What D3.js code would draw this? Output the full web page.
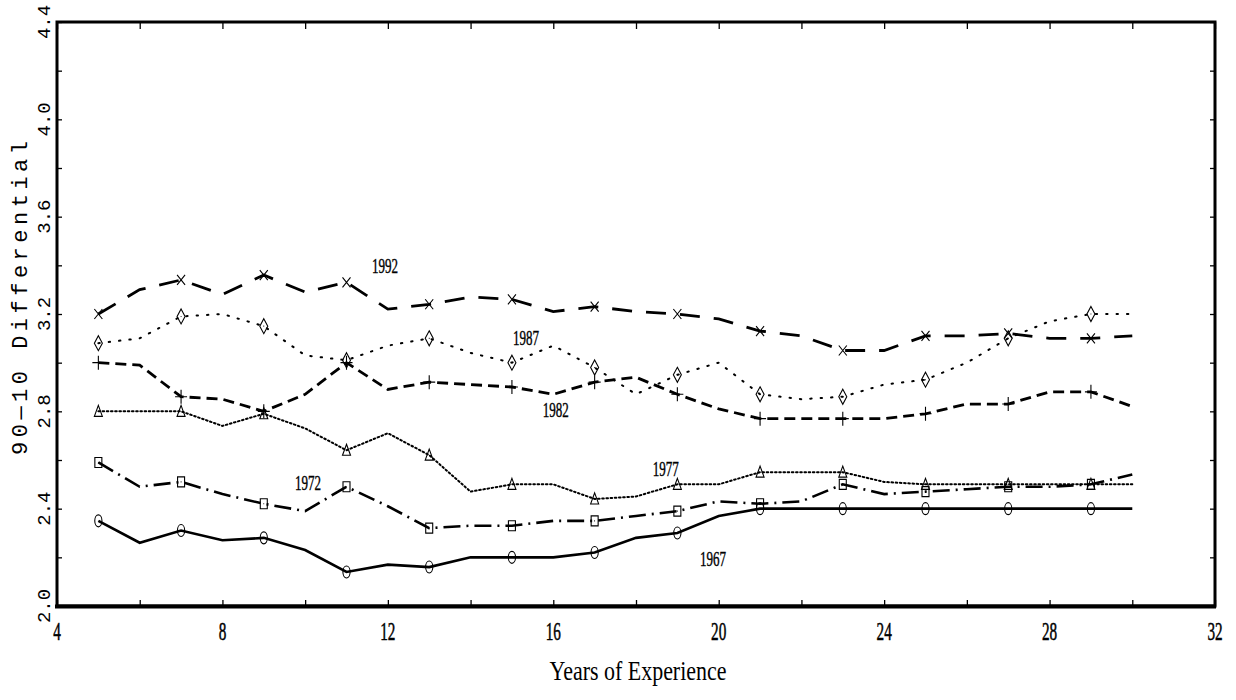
<!DOCTYPE html>
<head>
  <title>90-10 differential by experience</title>
  <meta charset="utf-8" />
  <script src="https://d3js.org/d3.v7.min.js"></script>
  <style>
    body { margin: 0; background: #fff; }
    svg { display: block; }
  </style>
</head>
<body>
<script>
  // experience years (one point per year), markers on odd years
  const years = d3.range(5, 31);
  const markerYears = d3.range(5, 30, 2);
  const cohorts = ["1967", "1972", "1977", "1982", "1987", "1992"];

  const v1967 = [2.35, 2.26, 2.31, 2.27, 2.28, 2.23, 2.14, 2.17, 2.16, 2.20, 2.20, 2.20, 2.22,
                 2.28, 2.30, 2.37, 2.40, 2.40, 2.40, 2.40, 2.40, 2.40, 2.40, 2.40, 2.40, 2.40];
  const v1972 = [2.59, 2.49, 2.51, 2.46, 2.42, 2.39, 2.49, 2.41, 2.32, 2.33, 2.33, 2.35, 2.35,
                 2.37, 2.39, 2.43, 2.42, 2.43, 2.50, 2.46, 2.47, 2.48, 2.49, 2.49, 2.50, 2.54];
  const v1977 = [2.80, 2.80, 2.80, 2.74, 2.79, 2.73, 2.64, 2.71, 2.62, 2.47, 2.50, 2.50, 2.44,
                 2.45, 2.50, 2.50, 2.55, 2.55, 2.55, 2.51, 2.50, 2.50, 2.50, 2.50, 2.50, 2.50];
  const v1982 = [3.00, 2.99, 2.86, 2.85, 2.80, 2.87, 3.00, 2.89, 2.92, 2.91, 2.90, 2.87, 2.92,
                 2.94, 2.87, 2.81, 2.77, 2.77, 2.77, 2.77, 2.79, 2.83, 2.83, 2.88, 2.88, 2.82];
  const v1987 = [3.08, 3.10, 3.19, 3.20, 3.15, 3.03, 3.01, 3.07, 3.10, 3.04, 3.00, 3.07, 2.98,
                 2.87, 2.95, 3.00, 2.87, 2.85, 2.86, 2.91, 2.93, 3.00, 3.10, 3.17, 3.20, 3.20];
  const v1992 = [3.20, 3.30, 3.34, 3.28, 3.36, 3.29, 3.33, 3.22, 3.24, 3.27, 3.26, 3.21, 3.23,
                 3.21, 3.20, 3.18, 3.13, 3.11, 3.05, 3.05, 3.11, 3.11, 3.12, 3.10, 3.10, 3.11];

  const xLabelTicks = d3.range(4, 33, 4);
  const xMinorTicks = d3.range(4, 33, 2);
  const yLabelTicks = d3.range(2.0, 4.41, 0.4);
  const yMinorTicks = d3.range(2.0, 4.41, 0.2);

  // where each cohort's year label sits, in data units
  const labelX = [19.86, 10.07, 18.72, 16.06, 15.34, 11.93];
  const labelY = [2.164, 2.477, 2.534, 2.777, 3.073, 3.369];

  const seriesValues = [v1967, v1972, v1977, v1982, v1987, v1992];

  const width = 1236, height = 700;
  const mLeft = 57, mRight = 1215, mTop = 22, mBottom = 606;

  const x = d3.scaleLinear().domain([4, 32]).range([mLeft, mRight]);
  const y = d3.scaleLinear().domain([2.0, 4.4]).range([mBottom, mTop]);

  const dashes = ["none", "17,6,2,6", "1.6,2.6", "11,6", "1.4,9", "20,14"];
  const widths = [2.6, 2.6, 2, 2.8, 2, 2.8];

  const markers = [
    // circle (tall ellipse)
    "M0,-6 A3.6,6 0 1,1 0,6 A3.6,6 0 1,1 0,-6 Z",
    // square with dot
    "M-3.5,-5 H3.5 V5 H-3.5 Z M-0.4,0 h0.8",
    // triangle
    "M0,-6 L4,5 L-4,5 Z",
    // plus
    "M-6,0 H6 M0,-7 V7",
    // diamond with dot
    "M0,-7.5 L4,0 L0,7.5 L-4,0 Z M-0.4,0 h0.8",
    // x
    "M-4,-5 L4,5 M4,-5 L-4,5",
  ];

  const svg = d3.select("body").append("svg")
    .attr("width", width).attr("height", height);

  // frame
  svg.append("rect")
    .attr("x", mLeft).attr("y", mTop)
    .attr("width", mRight - mLeft).attr("height", mBottom - mTop)
    .attr("fill", "none").attr("stroke", "#000").attr("stroke-width", 3);
  svg.append("line")
    .attr("x1", mLeft - 2).attr("x2", mRight + 1)
    .attr("y1", mBottom + 0.5).attr("y2", mBottom + 0.5)
    .attr("stroke", "#000").attr("stroke-width", 4);

  // inward ticks on all four sides
  const tickStyle = (g) => {
    g.select(".domain").remove();
    g.selectAll("line").attr("stroke", "#000").attr("stroke-width", 1.3);
    g.selectAll("text").remove();
  };
  svg.append("g").attr("transform", `translate(0,${mBottom})`)
    .call(d3.axisBottom(x).tickValues(xMinorTicks).tickSize(-6)).call(tickStyle);
  svg.append("g").attr("transform", `translate(0,${mTop})`)
    .call(d3.axisTop(x).tickValues(xMinorTicks).tickSize(-7)).call(tickStyle);
  svg.append("g").attr("transform", `translate(${mLeft},0)`)
    .call(d3.axisLeft(y).tickValues(yMinorTicks).tickSize(-5)).call(tickStyle);
  svg.append("g").attr("transform", `translate(${mRight},0)`)
    .call(d3.axisRight(y).tickValues(yMinorTicks).tickSize(-5)).call(tickStyle);

  // x tick labels, narrow serif
  svg.append("g")
    .selectAll("text")
    .data(xLabelTicks)
    .join("text")
    .attr("x", (d) => x(d))
    .attr("y", 640)
    .attr("text-anchor", "middle")
    .attr("font-family", "Liberation Serif")
    .attr("font-size", 25)
    .attr("stroke", "#000")
    .attr("stroke-width", 0.5)
    .attr("textLength", (d) => String(d).length * 7.6)
    .attr("lengthAdjust", "spacingAndGlyphs")
    .text((d) => d);

  // y tick labels, rotated mono
  svg.append("g")
    .selectAll("text")
    .data(yLabelTicks)
    .join("text")
    .attr("transform", (d) => `translate(50,${y(d)}) rotate(-90)`)
    .attr("text-anchor", "middle")
    .attr("font-family", "Liberation Mono")
    .attr("font-size", 19)
    .text((d) => d3.format(".1f")(d));

  svg.append("text")
    .attr("transform", `translate(${(mLeft + mRight) / 2 + 2},680)`)
    .attr("text-anchor", "middle")
    .attr("font-family", "Liberation Serif")
    .attr("font-size", 27)
    .attr("textLength", 177)
    .attr("lengthAdjust", "spacingAndGlyphs")
    .text("Years of Experience");

  svg.append("text")
    .attr("transform", `translate(27,${(mTop + mBottom) / 2 - 16}) rotate(-90)`)
    .attr("text-anchor", "middle")
    .attr("font-family", "Liberation Mono")
    .attr("font-size", 22)
    .attr("textLength", 314)
    .attr("lengthAdjust", "spacing")
    .text("90—10 Differential");

  const line = d3.line()
    .x((d, i) => x(years[i]))
    .y((d) => y(d));

  const plot = svg.append("g");

  seriesValues.forEach((vals, k) => {
    plot.append("path")
      .datum(vals)
      .attr("d", line)
      .attr("fill", "none")
      .attr("stroke", "#000")
      .attr("stroke-width", widths[k])
      .attr("stroke-dasharray", dashes[k] === "none" ? null : dashes[k])
      .attr("stroke-linecap", k === 2 || k === 4 ? "round" : "butt");

    plot.append("g")
      .selectAll("path")
      .data(markerYears)
      .join("path")
      .attr("transform", (yr) => `translate(${x(yr)},${y(vals[yr - 5])})`)
      .attr("d", markers[k])
      .attr("fill", "none")
      .attr("stroke", "#000")
      .attr("stroke-width", 1.1);

    plot.append("text")
      .attr("x", x(labelX[k]))
      .attr("y", y(labelY[k]))
      .attr("text-anchor", "middle")
      .attr("font-family", "Liberation Serif")
      .attr("font-size", 20)
      .attr("stroke", "#000")
      .attr("stroke-width", 0.4)
      .attr("textLength", 26)
      .attr("lengthAdjust", "spacingAndGlyphs")
      .text(cohorts[k]);
  });
</script>
</body>
